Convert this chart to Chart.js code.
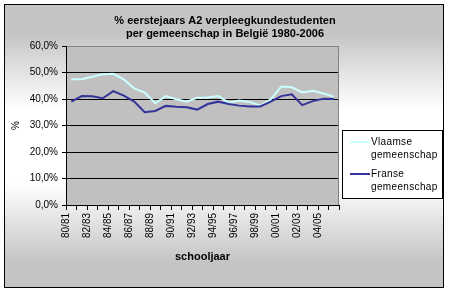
<!DOCTYPE html>
<html><head><meta charset="utf-8">
<script src="https://cdn.jsdelivr.net/npm/chart.js@4"></script>
<style>html,body{margin:0;padding:0;background:#fff;overflow:hidden}</style>
</head><body>
<canvas id="c" width="450" height="293"></canvas>
<script>
const categories = ['80/81','81/82','82/83','83/84','84/85','85/86','86/87','87/88','88/89','89/90','90/91','91/92','92/93','93/94','94/95','95/96','96/97','97/98','98/99','99/00','00/01','01/02','02/03','03/04','04/05','05/06'];
const vlaamse = [47.5,47.5,48.4,49.3,49.5,47.4,44.0,42.4,38.4,41.1,39.9,39.0,40.5,40.6,41.1,38.6,39.4,38.9,37.5,39.9,44.7,44.4,42.5,43.1,42.1,40.9];
const franse  = [39.0,41.1,41.0,40.3,43.0,41.3,39.0,35.0,35.5,37.4,37.1,36.9,36.0,38.1,39.0,38.1,37.5,37.2,37.2,39.0,41.1,41.8,37.7,39.2,40.1,40.0];
const seriesNames = ['Vlaamse gemeenschap','Franse gemeenschap'];
const titleLines = ['% eerstejaars A2 verpleegkundestudenten','per gemeenschap in België 1980-2006'];
const yMin = 0, yMax = 60, yStep = 10;

const FONT = "'Liberation Sans', Arial, sans-serif";
Chart.defaults.font.family = FONT;
Chart.defaults.color = '#000';

const bgPlugin = {
  id: 'bg',
  beforeDraw(chart) {
    const ctx = chart.ctx, a = chart.chartArea;
    ctx.save();
    ctx.fillStyle = '#fff';
    ctx.fillRect(0, 0, chart.width, chart.height);
    const g = ctx.createLinearGradient(0, 4, 0, 288);
    g.addColorStop(0, '#c4c4c4');
    g.addColorStop(0.10, '#c4c4c4');
    g.addColorStop(0.37, '#ffffff');
    g.addColorStop(0.63, '#ffffff');
    g.addColorStop(0.91, '#c4c4c4');
    g.addColorStop(1, '#c4c4c4');
    ctx.fillStyle = g;
    ctx.fillRect(4, 4, 440, 284);
    ctx.strokeStyle = '#000';
    ctx.lineWidth = 1;
    ctx.strokeRect(4.5, 4.5, 439, 283);
    ctx.fillStyle = '#c0c0c0';
    ctx.fillRect(a.left, a.top, a.right - a.left, a.bottom - a.top);
    ctx.restore();
  },
  beforeDatasetsDraw(chart) {
    const ctx = chart.ctx, a = chart.chartArea;
    ctx.save();
    ctx.strokeStyle = '#808080';
    ctx.lineWidth = 1;
    ctx.beginPath();
    ctx.moveTo(Math.round(a.right) - 0.5, a.top);
    ctx.lineTo(Math.round(a.right) - 0.5, a.bottom);
    ctx.stroke();
    ctx.restore();
  }
};

const legendPlugin = {
  id: 'boxLegend',
  afterDraw(chart) {
    const ctx = chart.ctx;
    const x = 342, y = 130, w = 100, h = 68;
    ctx.save();
    ctx.fillStyle = '#fff';
    ctx.fillRect(x, y, w, h);
    ctx.strokeStyle = '#000';
    ctx.lineWidth = 1;
    ctx.strokeRect(x + 0.5, y + 0.5, w, h);
    ctx.font = '10px ' + FONT;
    try { ctx.letterSpacing = '0.35px'; } catch (e) {}
    ctx.textBaseline = 'middle';
    ctx.textAlign = 'left';
    ctx.fillStyle = '#000';
    const rows = [142, 174];
    chart.data.datasets.forEach((ds, i) => {
      const cy = rows[i];
      ctx.strokeStyle = ds.borderColor;
      ctx.lineWidth = 2;
      ctx.beginPath();
      ctx.moveTo(350, cy);
      ctx.lineTo(370, cy);
      ctx.stroke();
      const parts = ds.label.split(' ');
      ctx.fillText(parts[0], 371, cy);
      ctx.fillText(parts.slice(1).join(' '), 371, cy + 13);
    });
    ctx.restore();
  }
};

new Chart(document.getElementById('c'), {
  type: 'line',
  data: {
    labels: categories,
    datasets: [
      { label: seriesNames[0], data: vlaamse, borderColor: '#ccffff', backgroundColor: '#ccffff', borderWidth: 2, pointRadius: 0, tension: 0, order: 1, yAxisID: 'y' },
      { label: seriesNames[1], data: franse, borderColor: '#333399', backgroundColor: '#333399', borderWidth: 2, pointRadius: 0, tension: 0, order: 0, yAxisID: 'y' }
    ]
  },
  options: {
    responsive: false,
    animation: false,
    devicePixelRatio: 1,
    layout: { padding: { top: 0, left: 0, right: 0, bottom: 5 } },
    plugins: {
      legend: { display: false },
      tooltip: { enabled: false },
      title: {
        display: true,
        text: titleLines,
        font: { size: 11, weight: 'bold', lineHeight: 1.15 },
        color: '#000',
        padding: { top: 15, bottom: 5.7 }
      }
    },
    scales: {
      x: {
        type: 'category',
        offset: true,
        grid: { offset: true, drawOnChartArea: false, drawTicks: true, tickLength: 5, color: '#000' },
        border: { color: '#000' },
        ticks: {
          autoSkip: false, maxRotation: 90, minRotation: 90, padding: 3, labelOffset: -5,
          font: { size: 10 }, color: '#000',
          callback: (v, i) => (i % 2 === 0 ? categories[i] : '')
        },
        title: { display: true, text: 'schooljaar', font: { size: 11, weight: 'bold' }, padding: { top: 0, bottom: 24 } },
        afterFit(s) { s.height = 83; }
      },
      y: {
        min: yMin, max: yMax,
        grid: {
          color: (c) => (c.tick && c.tick.value === yMax ? '#808080' : '#000'),
          tickColor: '#000',
          tickLength: 4
        },
        border: { color: '#000' },
        ticks: {
          stepSize: yStep, padding: 4, font: { size: 10 }, color: '#000',
          callback: (v) => v.toFixed(1).replace('.', ',') + '%'
        },
        title: { display: true, text: '%', font: { size: 10 }, padding: { top: 10, bottom: 0 } },
        afterFit(s) { s.width = 66; }
      },
      yR: {
        type: 'linear', position: 'right', display: true,
        grid: { display: false, drawTicks: false },
        border: { display: false },
        ticks: { display: false },
        afterFit(s) { s.width = 111; }
      }
    }
  },
  plugins: [bgPlugin, legendPlugin]
});
</script>
</body></html>
